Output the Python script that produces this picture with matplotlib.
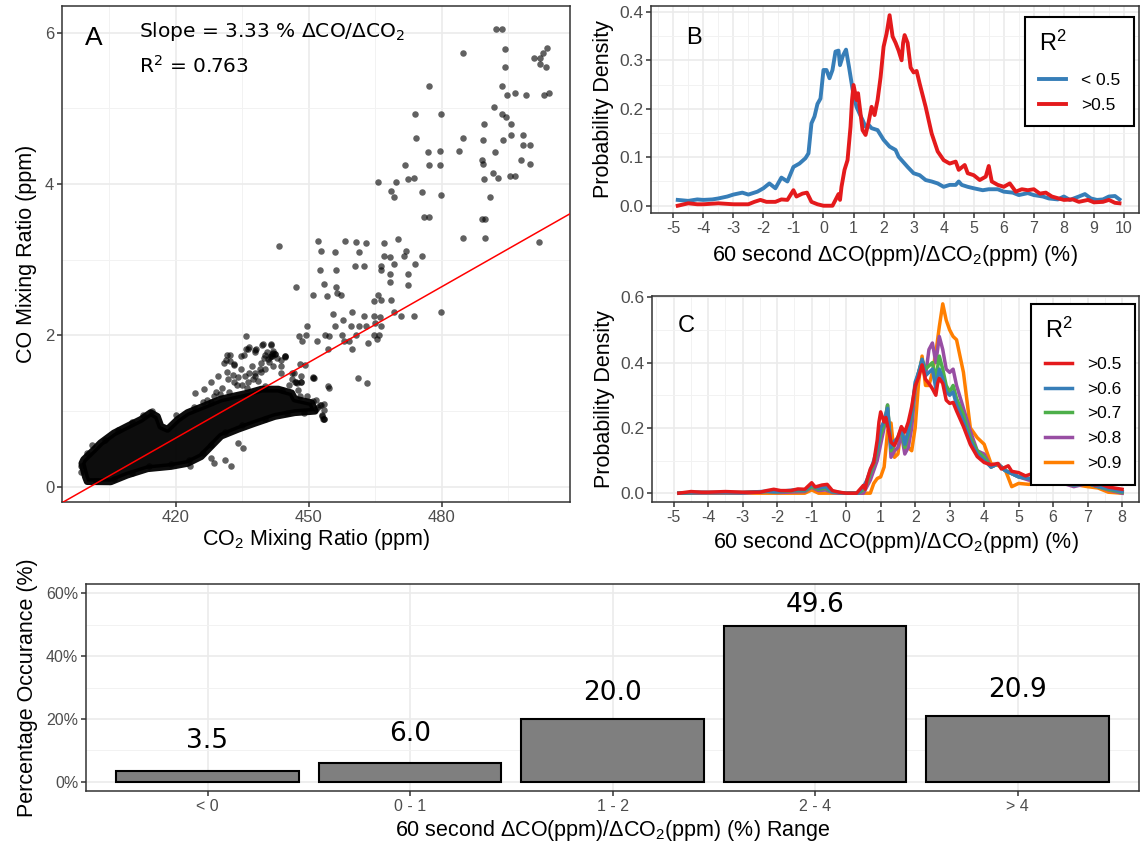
import numpy as np
import matplotlib
matplotlib.use('Agg')
import matplotlib.pyplot as plt
from matplotlib.ticker import MultipleLocator, FixedLocator

plt.rcParams['font.family'] = ['Liberation Sans', 'DejaVu Sans']
plt.rcParams['mathtext.fontset'] = 'custom'
plt.rcParams['mathtext.rm'] = 'Liberation Sans'
plt.rcParams['mathtext.it'] = 'Liberation Sans:italic'
plt.rcParams['mathtext.bf'] = 'Liberation Sans:bold'
plt.rcParams['axes.unicode_minus'] = False

# ---- panel A: CO vs CO2 ----
# dense core of the scatter, traced as an outline
blob_x = [398.8, 399.6, 400.0, 405.3, 409.0, 413.6, 418.9, 422.6, 425.7, 427.2, 430.2, 434.0,
          437.8, 442.3, 446.8, 451.4, 450.6, 446.8, 446.1, 443.1, 439.3, 436.3, 433.2, 430.2,
          426.4, 422.6, 420.4, 418.1, 416.6, 415.8, 414.3, 412.1, 409.0, 406.0, 403.0, 401.5, 399.2]
blob_y = [0.31, 0.13, 0.07, 0.067, 0.155, 0.24, 0.27, 0.31, 0.40, 0.49, 0.67, 0.76,
          0.84, 0.93, 0.98, 1.00, 1.11, 1.16, 1.24, 1.29, 1.29, 1.24, 1.20, 1.16,
          1.07, 0.98, 0.89, 0.76, 0.80, 0.93, 0.98, 0.89, 0.80, 0.71, 0.58, 0.49, 0.36]
# individual points
co2_pts = [492.3, 493.6, 484.8, 494.2, 503.6, 500.7, 502.1, 502.8, 503.5, 502.1, 494.2, 477.2,
           493.6, 494.6, 496.5, 498.9, 503.0, 504.1, 491.7, 473.9, 479.7, 493.6, 494.4, 489.4,
           495.7, 474.1, 484.8, 489.2, 493.7, 495.6, 498.2, 498.2, 499.9, 476.8, 479.6, 483.9,
           491.9, 489.0, 489.2, 471.6, 477.2, 479.6, 497.8, 499.9, 491.5, 492.6, 495.3, 496.5,
           489.4, 472.4, 473.6, 465.6, 469.7, 468.6, 469.2, 475.5, 479.8, 490.9, 475.9, 477.2,
           489.0, 489.8, 484.8, 489.8, 502.0, 443.2, 452.0, 452.7, 455.8, 458.1, 460.7, 461.3,
           462.9, 466.9, 470.1, 467.0, 468.3, 471.8, 471.4, 475.6, 474.0, 466.3, 469.2, 460.3,
           462.4, 452.4, 456.1, 466.3, 468.3, 472.3, 472.3, 468.3, 453.3, 456.1, 447.2, 451.0,
           454.1, 456.3, 457.3, 465.6, 464.7, 466.3, 468.5, 459.8, 455.4, 464.7, 466.1, 469.1,
           470.7, 473.6, 479.8, 457.8, 462.4, 465.0, 449.5, 455.8, 459.4, 461.3, 462.9, 466.3,
           447.7, 449.4, 435.7, 453.6, 454.6, 457.5, 460.7, 464.7, 465.9, 448.5, 451.9, 457.9,
           459.1, 463.4, 465.3, 459.8, 454.4, 436.5, 439.5, 441.4, 437.8, 431.5, 435.3, 432.3,
           441.6, 444.7, 446.6, 449.1, 451.2, 461.1, 463.2, 454.6, 447.4, 452.8, 453.1, 451.7,
           436.3, 438.1, 439.7, 441.4, 441.6, 442.4, 444.6, 443.7, 441.9, 439.3, 443.8, 446.1,
           448.3, 451.0, 447.0, 448.2, 433.2, 435.5, 437.8, 431.3, 432.1, 434.7, 447.9, 451.0,
           453.3, 453.3, 431.7, 433.2, 429.4, 437.8, 439.3, 441.5, 440.8, 442.3, 440.0, 436.3,
           434.7, 433.2, 430.9, 427.9, 426.4, 424.2, 443.8, 444.5, 446.1, 446.8, 448.3, 437.8,
           435.9, 431.0, 432.5, 435.1, 434.0, 427.9, 428.7, 423.2, 452.9, 453.3, 454.4, 451.0,
           398.5, 398.6, 400.0, 401.0, 404.0, 407.0, 410.0, 412.5, 414.5, 420.0, 424.0, 428.0,
           432.0, 436.0, 440.0, 444.0, 448.0, 452.0, 453.0, 449.0, 445.0, 440.0, 435.0, 431.0,
           428.0, 426.0, 423.0, 419.0, 414.0, 410.0, 406.0, 402.0,
           430.5, 431.5, 432.8, 434.0, 435.0, 436.5, 437.2, 438.5, 439.8, 440.5, 441.2, 442.0,
           442.8, 441.0, 429.0, 428.5, 427.0, 445.5, 447.5, 449.5, 451.5, 452.5, 453.5, 440.2,
           441.8, 439.0, 437.5, 433.8, 430.0, 426.0]
co_pts = [6.05, 6.05, 5.73, 5.78, 5.79, 5.66, 5.66, 5.73, 5.54, 5.59, 5.54, 5.30,
          5.30, 5.17, 5.20, 5.17, 5.17, 5.20, 5.02, 4.93, 4.93, 4.93, 4.89, 4.79,
          4.79, 4.61, 4.61, 4.58, 4.58, 4.65, 4.65, 4.51, 4.51, 4.42, 4.43, 4.43,
          4.42, 4.31, 4.27, 4.25, 4.25, 4.25, 4.31, 4.27, 4.15, 4.08, 4.10, 4.10,
          4.06, 4.06, 4.08, 4.02, 4.02, 3.91, 3.83, 3.90, 3.86, 3.83, 3.56, 3.56,
          3.54, 3.54, 3.28, 3.28, 3.23, 3.18, 3.25, 3.11, 3.10, 3.25, 3.23, 3.10,
          3.22, 3.22, 3.27, 3.05, 3.04, 3.12, 3.05, 3.05, 2.94, 2.92, 2.94, 2.92,
          2.92, 2.87, 2.87, 2.87, 2.81, 2.81, 2.67, 2.70, 2.68, 2.64, 2.64, 2.54,
          2.52, 2.56, 2.54, 2.54, 2.45, 2.47, 2.47, 2.31, 2.28, 2.25, 2.24, 2.31,
          2.25, 2.25, 2.31, 2.20, 2.25, 2.16, 2.12, 2.12, 2.12, 2.12, 2.12, 2.12,
          1.99, 2.01, 1.99, 2.01, 1.99, 2.01, 2.01, 2.01, 2.01, 1.92, 1.92, 1.93,
          1.93, 1.90, 1.95, 1.82, 1.82, 1.85, 1.87, 1.87, 1.81, 1.74, 1.74, 1.66,
          1.75, 1.71, 1.50, 1.61, 1.44, 1.44, 1.37, 1.31, 1.37, 1.08, 0.89, 1.03,
          1.82, 1.82, 1.89, 1.89, 1.73, 1.76, 1.73, 1.67, 1.60, 1.52, 1.51, 1.51,
          1.47, 1.45, 1.39, 1.39, 1.61, 1.47, 1.51, 1.67, 1.74, 1.73, 1.62, 1.13,
          1.09, 0.90, 1.42, 1.38, 1.47, 1.47, 1.64, 1.73, 1.69, 1.76, 1.56, 1.38,
          1.56, 1.62, 1.64, 1.38, 1.29, 1.24, 1.60, 1.73, 1.42, 1.38, 1.38, 1.78,
          1.82, 0.36, 0.27, 0.51, 0.58, 0.38, 0.31, 0.27, 0.93, 0.89, 1.33, 1.44,
          0.28, 0.20, 0.45, 0.55, 0.62, 0.75, 0.85, 0.95, 1.00, 0.95, 1.05, 1.12,
          1.25, 1.30, 1.33, 1.28, 1.20, 1.06, 0.95, 0.98, 0.97, 0.90, 0.82, 0.72,
          0.55, 0.45, 0.35, 0.30, 0.27, 0.18, 0.10, 0.08,
          1.30, 1.52, 1.48, 1.45, 1.35, 1.50, 1.60, 1.40, 1.70, 1.78, 1.72, 1.80,
          1.70, 1.65, 1.25, 1.20, 1.15, 1.35, 1.28, 1.20, 1.15, 1.08, 1.02, 1.74,
          1.77, 1.55, 1.42, 1.35, 1.22, 1.12]
fit_slope = 0.0333      # 3.33 % dCO/dCO2
fit_intercept = -13.34

# ---- panel B: density by R2 class ----
b_blue_x = [-4.85, -4.5, -4.2, -4.0, -3.7, -3.5, -3.2, -3.0, -2.7, -2.5, -2.2, -2.0, -1.8, -1.6,
            -1.4, -1.2, -1.0, -0.8, -0.6, -0.5, -0.4, -0.3, -0.2, -0.1, 0.0, 0.1, 0.2, 0.3,
            0.4, 0.5, 0.55, 0.65, 0.75, 0.85, 1.0, 1.1, 1.2, 1.3, 1.4, 1.5, 1.6, 1.8, 2.0,
            2.2, 2.4, 2.5, 2.6, 2.8, 3.0, 3.2, 3.4, 3.6, 3.8, 4.0, 4.2, 4.4, 4.5, 4.6, 4.8,
            5.0, 5.3, 5.5, 5.8, 6.0, 6.3, 6.5, 6.8, 7.0, 7.3, 7.5, 7.8, 8.0, 8.2, 8.5, 8.7,
            8.9, 9.1, 9.3, 9.5, 9.7, 9.85]
b_blue_y = [0.012, 0.010, 0.013, 0.012, 0.013, 0.015, 0.019, 0.023, 0.027, 0.023, 0.029, 0.036,
            0.046, 0.036, 0.058, 0.050, 0.080, 0.087, 0.098, 0.108, 0.170, 0.184, 0.210, 0.221,
            0.280, 0.280, 0.263, 0.280, 0.318, 0.320, 0.290, 0.310, 0.322, 0.286, 0.228, 0.204,
            0.190, 0.177, 0.163, 0.167, 0.160, 0.156, 0.136, 0.122, 0.115, 0.101, 0.094, 0.080,
            0.067, 0.063, 0.053, 0.050, 0.046, 0.039, 0.043, 0.043, 0.050, 0.043, 0.039, 0.036,
            0.032, 0.034, 0.034, 0.029, 0.027, 0.022, 0.026, 0.022, 0.019, 0.015, 0.013, 0.019,
            0.012, 0.019, 0.024, 0.015, 0.012, 0.013, 0.019, 0.020, 0.013]
b_red_x = [-4.85, -4.5, -4.2, -4.0, -3.5, -3.0, -2.5, -2.3, -2.1, -1.9, -1.6, -1.4, -1.2, -1.0,
           -0.9, -0.7, -0.55, -0.4, -0.2, 0.0, 0.3, 0.4, 0.5, 0.55, 0.6, 0.7, 0.8, 0.9, 0.95,
           1.0, 1.1, 1.15, 1.3, 1.4, 1.5, 1.6, 1.7, 1.8, 1.9, 2.0, 2.1, 2.2, 2.3, 2.4, 2.5,
           2.6, 2.65, 2.7, 2.8, 2.9, 3.0, 3.1, 3.2, 3.3, 3.4, 3.6, 3.8, 4.0, 4.2, 4.4, 4.5,
           4.7, 4.8, 5.0, 5.2, 5.4, 5.5, 5.6, 5.8, 6.0, 6.2, 6.4, 6.6, 6.8, 7.0, 7.2, 7.4,
           7.6, 8.0, 8.3, 8.5, 8.8, 9.0, 9.3, 9.5, 9.7, 9.85]
b_red_y = [0.000, 0.005, 0.003, 0.003, 0.005, 0.003, 0.003, 0.008, 0.012, 0.008, 0.008, 0.013,
           0.012, 0.032, 0.019, 0.025, 0.027, 0.008, 0.003, 0.000, 0.000, 0.012, 0.024, 0.012,
           0.039, 0.074, 0.094, 0.163, 0.218, 0.249, 0.218, 0.232, 0.156, 0.146, 0.172, 0.204,
           0.187, 0.218, 0.265, 0.328, 0.355, 0.393, 0.349, 0.336, 0.320, 0.300, 0.336, 0.352,
           0.336, 0.285, 0.275, 0.278, 0.252, 0.228, 0.204, 0.149, 0.112, 0.094, 0.087, 0.091,
           0.074, 0.084, 0.067, 0.063, 0.053, 0.060, 0.082, 0.050, 0.043, 0.039, 0.046, 0.029,
           0.034, 0.032, 0.034, 0.025, 0.027, 0.019, 0.012, 0.013, 0.008, 0.012, 0.007, 0.008,
           0.012, 0.006, 0.005]
b_labels = ['< 0.5', '>0.5']

# ---- panel C: density for R2 above thresholds ----
c_x = [-4.85, -4.3, -3.5, -3.0, -2.3, -2.0, -1.5, -1.2, -1.0, -0.8,
       -0.6, -0.4, -0.2, 0.0, 0.35, 0.5, 0.6, 0.7, 0.8, 0.9,
       1.0, 1.1, 1.2, 1.3, 1.4, 1.5, 1.6, 1.7, 1.8, 1.9,
       2.0, 2.1, 2.2, 2.3, 2.4, 2.5, 2.6, 2.7, 2.8, 2.9,
       3.0, 3.1, 3.2, 3.4, 3.6, 3.8, 4.0, 4.2, 4.4, 4.6,
       4.8, 5.0, 5.3, 5.6, 6.0, 6.3, 6.6, 7.0, 7.3, 7.6, 8.0]
c_06 = [0.0, 0.003, 0.002, 0.002, 0.006, 0.005, 0.01, 0.01, 0.025, 0.015,
        0.02, 0.005, 0.002, 0.0, 0.0, 0.02, 0.04, 0.07, 0.10, 0.14,
        0.20, 0.22, 0.26, 0.14, 0.16, 0.17, 0.20, 0.15, 0.19, 0.25,
        0.34, 0.37, 0.41, 0.36, 0.37, 0.38, 0.32, 0.38, 0.35, 0.31,
        0.30, 0.31, 0.27, 0.22, 0.16, 0.12, 0.10, 0.08, 0.09, 0.07,
        0.06, 0.05, 0.045, 0.04, 0.03, 0.035, 0.025, 0.03, 0.02, 0.015, 0.005]
c_07 = [0.0, 0.002, 0.002, 0.002, 0.005, 0.004, 0.008, 0.008, 0.02, 0.012,
        0.015, 0.004, 0.002, 0.0, 0.0, 0.01, 0.03, 0.06, 0.09, 0.13,
        0.18, 0.21, 0.27, 0.13, 0.15, 0.17, 0.19, 0.14, 0.18, 0.24,
        0.33, 0.37, 0.41, 0.38, 0.39, 0.40, 0.35, 0.42, 0.38, 0.33,
        0.31, 0.33, 0.29, 0.24, 0.17, 0.13, 0.11, 0.08, 0.09, 0.07,
        0.06, 0.05, 0.045, 0.04, 0.03, 0.03, 0.025, 0.03, 0.02, 0.012, 0.003]
c_08 = [0.0, 0.0, 0.001, 0.0, 0.005, 0.002, 0.004, 0.005, 0.018, 0.008,
        0.01, 0.002, 0.0, 0.0, 0.0, 0.0, 0.02, 0.04, 0.07, 0.10,
        0.15, 0.20, 0.27, 0.11, 0.13, 0.14, 0.18, 0.12, 0.14, 0.20,
        0.32, 0.37, 0.40, 0.36, 0.44, 0.46, 0.40, 0.48, 0.44, 0.38,
        0.37, 0.38, 0.33, 0.26, 0.19, 0.13, 0.12, 0.08, 0.09, 0.07,
        0.06, 0.05, 0.04, 0.035, 0.03, 0.03, 0.02, 0.03, 0.02, 0.01, 0.0]
c_09 = [0.0, 0.0, 0.0, 0.0, 0.0, 0.0, 0.0, 0.0, 0.01, 0.0,
        0.0, 0.0, 0.0, 0.0, 0.0, 0.0, 0.0, 0.0, 0.03, 0.045,
        0.05, 0.08, 0.19, 0.215, 0.11, 0.12, 0.2, 0.17, 0.14, 0.13,
        0.20, 0.34, 0.42, 0.33, 0.33, 0.37, 0.43, 0.51, 0.58, 0.53,
        0.50, 0.48, 0.47, 0.37, 0.20, 0.17, 0.15, 0.09, 0.085, 0.075,
        0.02, 0.03, 0.027, 0.04, 0.027, 0.03, 0.027, 0.02, 0.016, 0.003, 0.0]
c_labels = ['>0.5', '>0.6', '>0.7', '>0.8', '>0.9']

# ---- panel D: occurrence by ratio range ----
d_cats = ['< 0', '0 - 1', '1 - 2', '2 - 4', '> 4']
d_vals = [3.5, 6.0, 20.0, 49.6, 20.9]

blue, red, green, purple, orange = '#377EB8', '#E41A1C', '#4DAF4A', '#984EA3', '#FF7F00'

W, H = 1140, 847
fig = plt.figure(figsize=(W / 100, H / 100), dpi=100)


def px_axes(l, t, r, b):
    return fig.add_axes([l / W, 1 - b / H, (r - l) / W, (b - t) / H])


def bw(ax, tick_size=11, ytick_size=None):
    ax.set_facecolor('white')
    for s in ax.spines.values():
        s.set_color('#333333')
        s.set_linewidth(1.1)
    ax.grid(which='major', color='#EBEBEB', lw=1.2)
    ax.grid(which='minor', color='#F2F2F2', lw=0.7)
    ax.set_axisbelow(True)
    ax.tick_params(which='major', length=3.5, width=1.1, color='#333333',
                   labelcolor='#4D4D4D', labelsize=tick_size, pad=2)
    if ytick_size:
        ax.tick_params(axis='y', labelsize=ytick_size)
    ax.tick_params(which='minor', length=0)


def style_legend(leg, sep):
    leg.get_frame().set_linewidth(1.5)
    leg._legend_box.align = 'left'
    leg._legend_box.sep = sep


title_fs = 15.5

# A
ax_a = px_axes(62, 6, 570, 502)
bw(ax_a, 12)
ax_a.fill(blob_x, blob_y, color='black', alpha=0.95, lw=5, ec='black', joinstyle='round', zorder=2)
ax_a.scatter(co2_pts, co_pts, s=22, c='black', alpha=0.62, lw=0, zorder=3)
ax_a.axline((0, fit_intercept), slope=fit_slope, color='red', lw=1.1, zorder=4)
ax_a.set_xlim(394.3, 508.9)
ax_a.set_ylim(-0.2, 6.35)
ax_a.xaxis.set_major_locator(FixedLocator([420, 450, 480]))
ax_a.xaxis.set_minor_locator(FixedLocator([405, 435, 465, 495]))
ax_a.yaxis.set_major_locator(MultipleLocator(2))
ax_a.yaxis.set_minor_locator(MultipleLocator(1))
ax_a.set_xlabel('CO$_2$ Mixing Ratio (ppm)', fontsize=title_fs, labelpad=2)
ax_a.set_ylabel('CO Mixing Ratio (ppm)', fontsize=title_fs, labelpad=6)
ax_a.text(0.045, 0.935, 'A', transform=ax_a.transAxes, fontsize=19, va='center')
ax_a.text(0.152, 0.949, r'Slope = 3.33 % $\Delta$CO/$\Delta$CO$_2$', transform=ax_a.transAxes,
          fontsize=14.5, va='center', family='DejaVu Sans', math_fontfamily='dejavusans')
ax_a.text(0.152, 0.879, r'R$^2$ = 0.763', transform=ax_a.transAxes,
          fontsize=14.5, va='center', family='DejaVu Sans', math_fontfamily='dejavusans')

ratio_label = r'60 second $\Delta$CO(ppm)/$\Delta$CO$_2$(ppm) (%)'

# B
ax_b = px_axes(651, 6, 1139, 213)
bw(ax_b, 11.5, 12.5)
ax_b.plot(b_blue_x, b_blue_y, color=blue, lw=2.8, label=b_labels[0])
ax_b.plot(b_red_x, b_red_y, color=red, lw=2.8, label=b_labels[1])
ax_b.set_xlim(-5.74, 10.5)
ax_b.set_ylim(-0.015, 0.412)
ax_b.xaxis.set_major_locator(MultipleLocator(1))
ax_b.xaxis.set_minor_locator(MultipleLocator(0.5))
ax_b.yaxis.set_major_locator(MultipleLocator(0.1))
ax_b.yaxis.set_minor_locator(MultipleLocator(0.05))
ax_b.yaxis.set_major_formatter(plt.FormatStrFormatter('%.1f'))
ax_b.set_xlabel(ratio_label, fontsize=title_fs, labelpad=5)
ax_b.set_ylabel('Probability Density', fontsize=title_fs, labelpad=4)
ax_b.text(0.072, 0.845, 'B', transform=ax_b.transAxes, fontsize=17, va='center')
leg = ax_b.legend(title='R$^2$', loc='upper right', bbox_to_anchor=(0.99, 0.947), fontsize=12.5,
                  title_fontsize=17, frameon=True, fancybox=False, edgecolor='black',
                  handlelength=1.55, borderpad=0.8, labelspacing=0.55, handletextpad=0.85,
                  borderaxespad=0, framealpha=1)
style_legend(leg, 12)

# C
ax_c = px_axes(652, 296, 1139, 502)
bw(ax_c, 11.5, 12.5)
c_series = [(c_09, orange, c_labels[4]), (c_08, purple, c_labels[3]), (c_07, green, c_labels[2]),
            (c_06, blue, c_labels[1])]
handles = {}
for yy, col, lab in c_series:
    handles[lab], = ax_c.plot(c_x, yy, color=col, lw=2.5)
cr_x = [x for x in b_red_x if x <= 8]
cr_y = b_red_y[:len(cr_x)]
handles[c_labels[0]], = ax_c.plot(cr_x, cr_y, color=red, lw=2.5)
ax_c.set_xlim(-5.63, 8.49)
ax_c.set_ylim(-0.027, 0.604)
ax_c.xaxis.set_major_locator(MultipleLocator(1))
ax_c.xaxis.set_minor_locator(MultipleLocator(0.5))
ax_c.yaxis.set_major_locator(MultipleLocator(0.2))
ax_c.yaxis.set_minor_locator(MultipleLocator(0.1))
ax_c.yaxis.set_major_formatter(plt.FormatStrFormatter('%.1f'))
ax_c.set_xlabel(ratio_label, fontsize=title_fs, labelpad=4)
ax_c.set_ylabel('Probability Density', fontsize=title_fs, labelpad=4)
ax_c.text(0.053, 0.855, 'C', transform=ax_c.transAxes, fontsize=17, va='center')
leg = ax_c.legend([handles[l] for l in c_labels], c_labels, title='R$^2$', loc='upper right',
                  bbox_to_anchor=(0.992, 0.962), fontsize=12.5, title_fontsize=17, frameon=True,
                  fancybox=False, edgecolor='black', handlelength=1.55, borderpad=0.8,
                  labelspacing=0.55, handletextpad=0.85, borderaxespad=0, framealpha=1)
style_legend(leg, 10)

# D
ax_d = px_axes(86, 584, 1139, 791)
bw(ax_d, 11.5)
pos = np.arange(1, len(d_cats) + 1)
ax_d.bar(pos, d_vals, width=0.9, color='#7F7F7F', edgecolor='black', linewidth=1.5, zorder=2)
for p, v in zip(pos, d_vals):
    ax_d.text(p, v + 9.6 - 0.06 * v, f'{v:.1f}', ha='center', va='center', fontsize=19,
              family='DejaVu Sans')
ax_d.set_xlim(0.4, 5.6)
ax_d.set_ylim(-2.9, 62.9)
ax_d.set_xticks(pos)
ax_d.set_xticklabels(d_cats)
ax_d.yaxis.set_major_locator(FixedLocator([0, 20, 40, 60]))
ax_d.yaxis.set_minor_locator(FixedLocator([10, 30, 50]))
ax_d.yaxis.set_major_formatter(plt.FuncFormatter(lambda v, p: f'{v:.0f}%'))
ax_d.set_xlabel(ratio_label + ' Range', fontsize=title_fs, labelpad=3)
ax_d.set_ylabel('Percentage Occurance (%)', fontsize=title_fs, labelpad=6)

fig.savefig('out.png', dpi=100)
